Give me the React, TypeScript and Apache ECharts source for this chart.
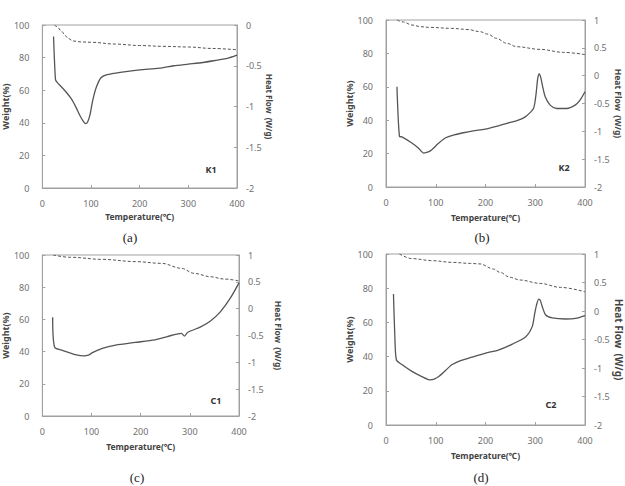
import React, { useEffect, useRef } from "react";
import * as echarts from "echarts";

// Temperature axis ticks (°C)
const tempTicks = [0, 100, 200, 300, 400];

// TGA weight (%) curves, [temperature, weight]
const weightK1 = [[25, 100], [30, 99], [40, 96], [47, 93.5], [53, 91.8], [63, 90.2], [80, 89.6], [100, 89.4], [150, 88.3], [200, 87.4], [250, 86.9], [300, 86.5], [350, 85.6], [400, 84.8]];
const weightK2 = [[22, 100], [35, 98.8], [52, 97], [70, 96], [86, 95.6], [132, 95], [165, 94.3], [189, 93], [205, 91.5], [222, 89], [243, 86], [263, 84], [310, 82.4], [357, 80.6], [400, 79.3]];
const weightC1 = [[22, 100], [55, 98.6], [122, 97.3], [189, 95.9], [243, 94.8], [283, 91.7], [309, 88.6], [342, 86.5], [369, 85.1], [400, 83.9]];
const weightC2 = [[27, 100], [52, 97.3], [93, 96.1], [133, 95.1], [170, 94.5], [189, 94.2], [216, 91.2], [229, 89.3], [249, 86.4], [269, 84.8], [310, 82.8], [350, 80.5], [400, 77.9]];

// DSC heat flow (W/g) curves, [temperature, heat flow]
const heatK1 = [[23, -0.14], [27, -0.67], [30, -0.7], [47, -0.81], [60, -0.91], [70, -1.02], [78, -1.12], [85, -1.19], [89, -1.21], [93, -1.19], [98, -1.1], [103, -0.94], [110, -0.78], [120, -0.65], [133, -0.61], [160, -0.58], [200, -0.55], [240, -0.53], [270, -0.5], [300, -0.48], [330, -0.46], [360, -0.43], [380, -0.41], [400, -0.37]];
const heatK2 = [[22, -0.2], [27, -1.09], [32, -1.1], [52, -1.21], [65, -1.3], [76, -1.39], [85, -1.37], [92, -1.33], [105, -1.22], [119, -1.12], [135, -1.07], [153, -1.03], [175, -0.99], [199, -0.96], [226, -0.9], [250, -0.84], [266, -0.8], [280, -0.74], [290, -0.66], [296, -0.6], [299, -0.5], [302, -0.3], [305, -0.05], [308, 0.03], [311, -0.03], [315, -0.2], [320, -0.38], [330, -0.53], [343, -0.59], [363, -0.59], [380, -0.53], [390, -0.44], [400, -0.29]];
const heatC1 = [[21, -0.16], [25, -0.72], [42, -0.78], [69, -0.86], [85, -0.88], [95, -0.86], [102, -0.82], [122, -0.74], [149, -0.68], [189, -0.63], [229, -0.58], [243, -0.55], [262, -0.5], [276, -0.47], [283, -0.46], [289, -0.51], [296, -0.44], [322, -0.34], [342, -0.23], [362, -0.06], [382, 0.19], [400, 0.48]];
const heatC2 = [[15, 0.3], [18, -0.5], [21, -0.86], [32, -0.94], [52, -1.06], [72, -1.15], [89, -1.21], [106, -1.15], [133, -0.94], [153, -0.86], [173, -0.81], [200, -0.74], [227, -0.68], [254, -0.58], [281, -0.45], [294, -0.27], [299, -0.04], [303, 0.12], [307, 0.21], [310, 0.19], [314, 0.08], [321, -0.07], [334, -0.12], [361, -0.14], [381, -0.13], [400, -0.08]];

// Sample names and panel captions
const sampleNames = ["K1", "K2", "C1", "C2"];
const captions = ["(a)", "(b)", "(c)", "(d)"];
const heatRanges = [[-2, 0], [-2, 1], [-2, 1], [-2, 1]];

const panels = [
  { weight: weightK1, heat: heatK1 },
  { weight: weightK2, heat: heatK2 },
  { weight: weightC1, heat: heatC1 },
  { weight: weightC2, heat: heatC2 },
];

// Plot areas in pixels
const grids = [
  { left: 37, top: 25, width: 200, height: 163 },
  { left: 386, top: 20, width: 199, height: 167 },
  { left: 38, top: 255, width: 201, height: 161 },
  { left: 386, top: 254, width: 199, height: 171 },
];
const labelPos = [[211, 169], [564, 167], [216, 400], [551, 404]];
const captionPos = [[130, 237], [482, 237], [137, 477], [481, 477]];
const heatNameGaps = [25, 29, 35, 26];
const weightNameGaps = [29, 28, 24, 25];
const tempNameGaps = [24, 26, 26, 26];
const heatNameSize = [8, 8.5, 8.5, 10];

const FRAME = "#a0a0a0";
const TICK_TEXT = "#707070";
const TITLE_TEXT = "#444";
const LINE = "#555";
const FONT = "Noto Sans, Liberation Sans, sans-serif";

export default function App() {
  const ref = useRef<HTMLDivElement>(null);

  useEffect(() => {
    if (!ref.current) return;
    const chart = echarts.init(ref.current, undefined, { renderer: "svg" });

    const xAxis = grids.map((_, i) => ({
      type: "value",
      gridIndex: i,
      min: tempTicks[0],
      max: tempTicks[tempTicks.length - 1],
      interval: 100,
      name: "Temperature(℃)",
      nameLocation: "middle",
      nameGap: tempNameGaps[i],
      nameTextStyle: { fontFamily: FONT, fontSize: 8.5, fontWeight: "bold", color: TITLE_TEXT },
      axisLine: { show: true, lineStyle: { color: FRAME } },
      axisTick: { show: true, inside: true, length: 3, lineStyle: { color: FRAME } },
      axisLabel: { fontFamily: FONT, fontSize: 9, color: TICK_TEXT, margin: 11 },
      splitLine: { show: false },
    }));

    const yAxis: any[] = [];
    grids.forEach((_, i) => {
      yAxis.push({
        type: "value",
        gridIndex: i,
        position: "left",
        min: 0,
        max: 100,
        interval: 20,
        name: "Weight(%)",
        nameLocation: "middle",
        nameRotate: 90,
        nameGap: weightNameGaps[i],
        nameTextStyle: { fontFamily: FONT, fontSize: 9, fontWeight: "bold", color: TITLE_TEXT },
        axisLine: { show: true, lineStyle: { color: FRAME } },
        axisTick: { show: true, inside: true, length: 3, lineStyle: { color: FRAME } },
        axisLabel: { fontFamily: FONT, fontSize: 9, color: TICK_TEXT, margin: 13 },
        splitLine: { show: false },
      });
      yAxis.push({
        type: "value",
        gridIndex: i,
        position: "right",
        min: heatRanges[i][0],
        max: heatRanges[i][1],
        interval: 0.5,
        name: "Heat Flow  (W/g)",
        nameLocation: "middle",
        nameRotate: -90,
        nameGap: heatNameGaps[i],
        nameTextStyle: { fontFamily: FONT, fontSize: heatNameSize[i], fontWeight: "bold", color: TITLE_TEXT },
        axisLine: { show: true, lineStyle: { color: FRAME } },
        axisTick: { show: true, inside: true, length: 3, lineStyle: { color: FRAME } },
        axisLabel: { fontFamily: FONT, fontSize: 9, color: TICK_TEXT, margin: 9 },
        splitLine: { show: false },
      });
    });

    const series: any[] = [];
    panels.forEach((p, i) => {
      series.push({
        type: "line",
        name: sampleNames[i] + " weight",
        xAxisIndex: i,
        yAxisIndex: i * 2,
        data: p.weight,
        showSymbol: false,
        smooth: 0.35,
        smoothMonotone: "x",
        lineStyle: { color: LINE, width: 1, type: [3, 2] },
      });
      series.push({
        type: "line",
        name: sampleNames[i] + " heat flow",
        xAxisIndex: i,
        yAxisIndex: i * 2 + 1,
        data: p.heat,
        showSymbol: false,
        smooth: 0.25,
        lineStyle: { color: LINE, width: 1.3 },
      });
    });

    const graphic: any[] = [];
    sampleNames.forEach((n, i) => {
      graphic.push({
        type: "text",
        x: labelPos[i][0],
        y: labelPos[i][1],
        style: {
          text: n,
          fontFamily: FONT,
          fontSize: 9,
          fontWeight: "bold",
          fill: "#333",
          align: "center",
          verticalAlign: "middle",
        },
      });
      graphic.push({
        type: "text",
        x: captionPos[i][0],
        y: captionPos[i][1],
        style: {
          text: captions[i],
          fontFamily: "Liberation Serif, DejaVu Serif, serif",
          fontSize: 13,
          fill: "#222",
          align: "center",
          verticalAlign: "middle",
        },
      });
    });

    chart.setOption({
      animation: false,
      backgroundColor: "#fff",
      grid: grids.map((g) => ({ ...g, show: true, borderColor: FRAME, borderWidth: 1, backgroundColor: "transparent" })),
      xAxis,
      yAxis,
      series,
      graphic,
    });

    return () => chart.dispose();
  }, []);

  return (
    <div
      ref={ref}
      style={{ position: "absolute", left: 0, top: 0, width: 625, height: 486 }}
    />
  );
}
